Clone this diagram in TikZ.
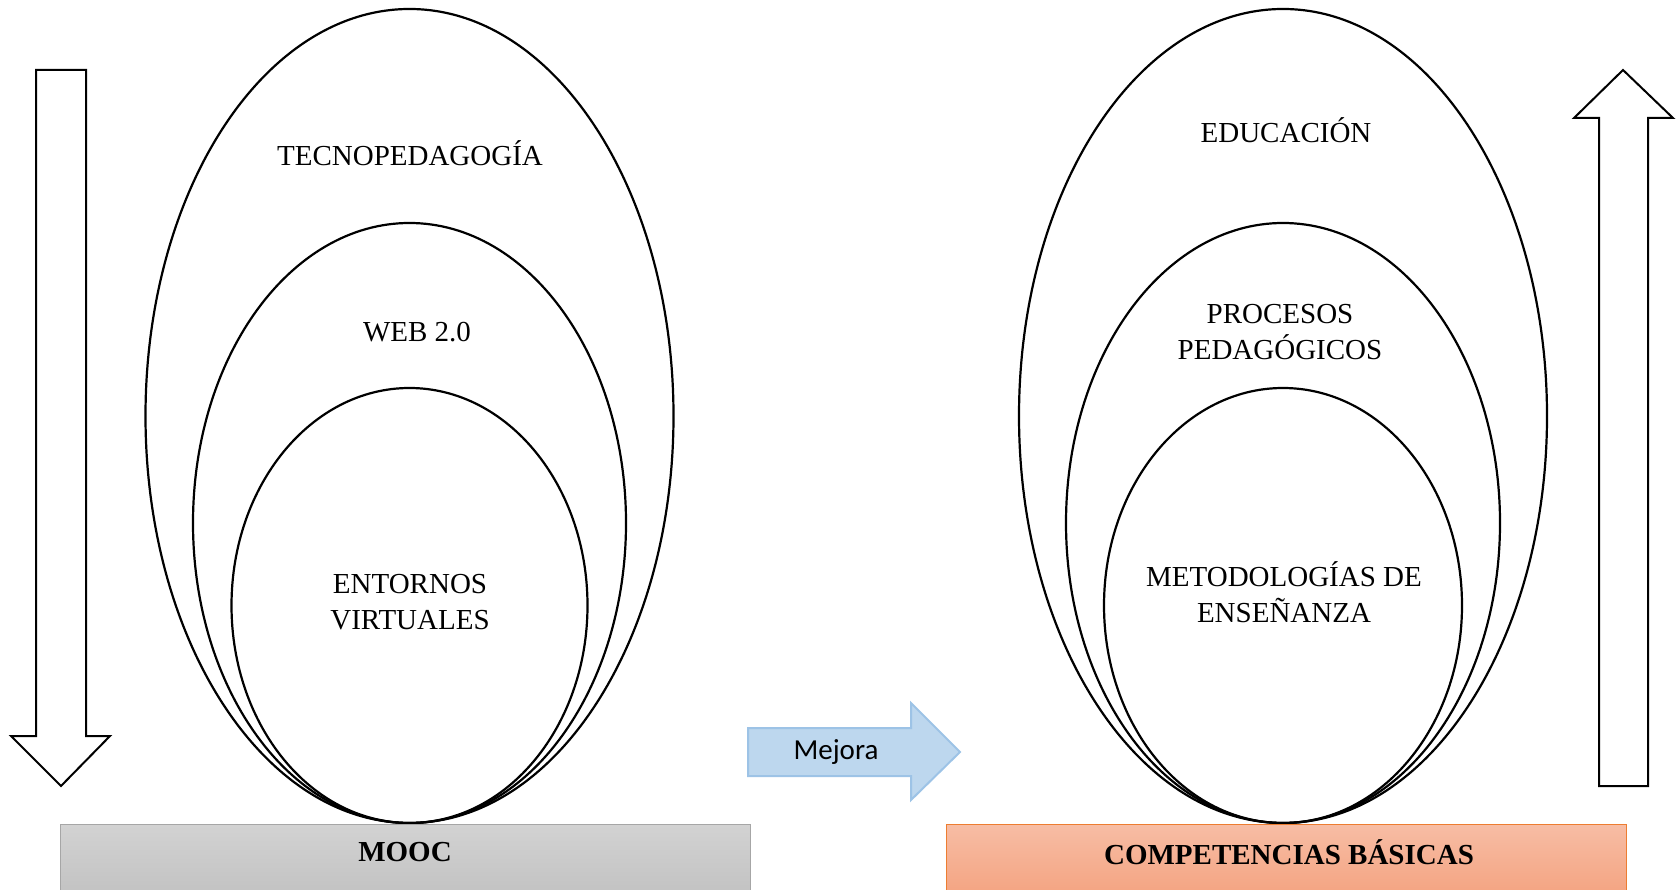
\documentclass[tikz,border=0pt]{standalone}
\usepackage{fontspec}
\setmainfont{Liberation Serif}
\newfontfamily\calibri{Carlito}
\begin{document}
\begin{tikzpicture}[x=1pt,y=1pt,
  ring/.style={draw=black,line width=2.2pt},
  bigarrow/.style={draw=black,line width=2pt,fill=white,line join=miter},
  label/.style={font=\fontsize{29}{36}\selectfont,align=center,inner sep=0pt},
  barlabel/.style={font=\fontsize{29}{36}\selectfont\bfseries,inner sep=0pt},
  mooc/.style={draw=gray!70,line width=1pt,top color=gray!35,bottom color=gray!47},
  comp/.style={draw=orangeedge,line width=1pt,top color=salmontop,bottom color=salmonbot}]
\definecolor{orangeedge}{HTML}{ED7D31}
\definecolor{salmontop}{HTML}{F7BDA5}
\definecolor{salmonbot}{HTML}{F4A583}
\definecolor{blueedge}{HTML}{9DC3E6}
\definecolor{bluefill}{HTML}{BDD7EE}
\useasboundingbox (0,0) rectangle (1680,889);

% left nested ellipses
\draw[ring] (409.5,473) ellipse [x radius=264,y radius=407];
\draw[ring] (409.5,366) ellipse [x radius=216.5,y radius=300];
\draw[ring] (409.5,283.5) ellipse [x radius=178,y radius=217.5];

% right nested ellipses
\draw[ring] (1283,473) ellipse [x radius=264,y radius=407];
\draw[ring] (1283,366) ellipse [x radius=217,y radius=300];
\draw[ring] (1283,283.5) ellipse [x radius=179,y radius=217.5];

% base bars
\path[mooc] (60,-2) rectangle (750,65);
\path[comp] (946,-2) rectangle (1626,65);
\node[barlabel] (mooc) at (405,37) {MOOC};
\node[barlabel] (comp) at (1289,37) {COMPETENCIAS BÁSICAS};

% ellipse labels
\node[label] (tecno) at (410,736) {TECNOPEDAGOGÍA};
\node[label] (web) at (417,557) {WEB 2.0};
\node[label] (entornos) at (410,287) {ENTORNOS\\VIRTUALES};
\node[label] (educ) at (1286,759) {EDUCACIÓN};
\node[label] (procesos) at (1280,557) {PROCESOS\\PEDAGÓGICOS};
\node[label] (metod) at (1284,297) {METODOLOGÍAS DE\\ENSEÑANZA};

% downward arrow on the left
\draw[bigarrow] (36,819) -- (86,819) -- (86,153) -- (110,153) -- (61,103)
  -- (11,153) -- (36,153) -- cycle;
% upward arrow on the right
\draw[bigarrow] (1599,103) -- (1648,103) -- (1648,771) -- (1673,771) -- (1623,819)
  -- (1574,771) -- (1599,771) -- cycle;

% improvement arrow
\draw[draw=blueedge,fill=bluefill,line width=2pt,line join=miter]
  (748,161) -- (911,161) -- (911,186) -- (960,137) -- (911,89) -- (911,113)
  -- (748,113) -- cycle;
\node[font=\calibri\fontsize{29}{34}\selectfont,inner sep=0pt] (mejora) at (836,137) {Mejora};
\end{tikzpicture}
\end{document}
